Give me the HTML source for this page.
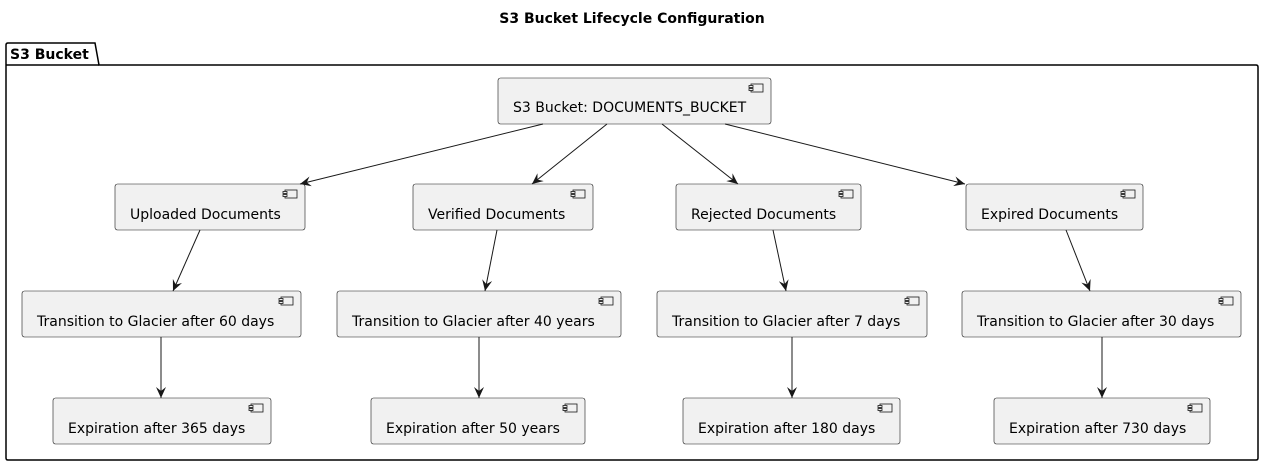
<!DOCTYPE html>
<html><head><meta charset="utf-8"><style>
html,body{margin:0;padding:0;background:#fff;}
svg text{font-family:"DejaVu Sans","Liberation Sans",sans-serif;}
</style></head><body>
<svg width="1264" height="465" viewBox="0 0 1264 465" xmlns="http://www.w3.org/2000/svg">
<defs>
<marker id="a" markerWidth="12" markerHeight="10" refX="11" refY="5" orient="auto" markerUnits="userSpaceOnUse">
<path d="M0,0 L11,5 L0,10 L4,5 Z" fill="#181818"/>
</marker>
<g id="ic"><rect x="0" y="0" width="12" height="8" fill="#f1f1f1" stroke="#181818" stroke-width="0.8"/><rect x="-2" y="1.5" width="4" height="2" fill="#f1f1f1" stroke="#181818" stroke-width="0.8"/><rect x="-2" y="4.5" width="4" height="2" fill="#f1f1f1" stroke="#181818" stroke-width="0.8"/></g>
</defs>
<text x="632" y="23" text-anchor="middle" font-size="14" font-weight="bold">S3 Bucket Lifecycle Configuration</text>
<path d="M6,65 L6,45 Q6,43 8,43 L95,43 L99,65 L1256,65 Q1258,65 1258,67 L1258,458 Q1258,460 1256,460 L8,460 Q6,460 6,458 Z" fill="none" stroke="#000" stroke-width="1.5"/>
<line x1="6" y1="65" x2="99" y2="65" stroke="#000" stroke-width="1.5"/>
<text x="10" y="59" font-size="14" font-weight="bold">S3 Bucket</text>
<g fill="#f1f1f1" stroke="#181818" stroke-width="0.6">
<rect x="498" y="78" width="273" height="46" rx="2.5"/>
<rect x="115" y="184" width="190" height="46" rx="2.5"/>
<rect x="413" y="184" width="180" height="46" rx="2.5"/>
<rect x="676" y="184" width="185" height="46" rx="2.5"/>
<rect x="966" y="184" width="177" height="46" rx="2.5"/>
<rect x="22" y="291" width="279" height="46" rx="2.5"/>
<rect x="337" y="291" width="284" height="46" rx="2.5"/>
<rect x="657" y="291" width="270" height="46" rx="2.5"/>
<rect x="962" y="291" width="279" height="46" rx="2.5"/>
<rect x="53" y="398" width="218" height="46" rx="2.5"/>
<rect x="371" y="398" width="214" height="46" rx="2.5"/>
<rect x="683" y="398" width="217" height="46" rx="2.5"/>
<rect x="994" y="398" width="216" height="46" rx="2.5"/>
</g>
<use href="#ic" x="751" y="84"/>
<use href="#ic" x="285" y="190"/><use href="#ic" x="573" y="190"/><use href="#ic" x="841" y="190"/><use href="#ic" x="1123" y="190"/>
<use href="#ic" x="281" y="297"/><use href="#ic" x="601" y="297"/><use href="#ic" x="907" y="297"/><use href="#ic" x="1221" y="297"/>
<use href="#ic" x="251" y="404"/><use href="#ic" x="565" y="404"/><use href="#ic" x="880" y="404"/><use href="#ic" x="1190" y="404"/>
<g font-size="14" fill="#000">
<text x="513" y="112">S3 Bucket: DOCUMENTS_BUCKET</text>
<text x="130" y="219">Uploaded Documents</text>
<text x="428" y="219">Verified Documents</text>
<text x="691" y="219">Rejected Documents</text>
<text x="981" y="219">Expired Documents</text>
<text x="37" y="326">Transition to Glacier after 60 days</text>
<text x="352" y="326">Transition to Glacier after 40 years</text>
<text x="672" y="326">Transition to Glacier after 7 days</text>
<text x="977" y="326">Transition to Glacier after 30 days</text>
<text x="68" y="433">Expiration after 365 days</text>
<text x="386" y="433">Expiration after 50 years</text>
<text x="698" y="433">Expiration after 180 days</text>
<text x="1009" y="433">Expiration after 730 days</text>
</g>
<g stroke="#181818" stroke-width="1" marker-end="url(#a)">
<line x1="543" y1="124" x2="300" y2="184"/>
<line x1="607" y1="124" x2="532" y2="184"/>
<line x1="662" y1="124" x2="738" y2="184"/>
<line x1="725" y1="124" x2="965" y2="184"/>
<line x1="200" y1="230" x2="173" y2="291"/>
<line x1="497" y1="230" x2="485" y2="291"/>
<line x1="773" y1="230" x2="786" y2="291"/>
<line x1="1066" y1="230" x2="1090" y2="291"/>
<line x1="161" y1="337" x2="161" y2="398"/>
<line x1="479" y1="337" x2="479" y2="398"/>
<line x1="792" y1="337" x2="792" y2="398"/>
<line x1="1102" y1="337" x2="1102" y2="398"/>
</g>
</svg>
</body></html>
